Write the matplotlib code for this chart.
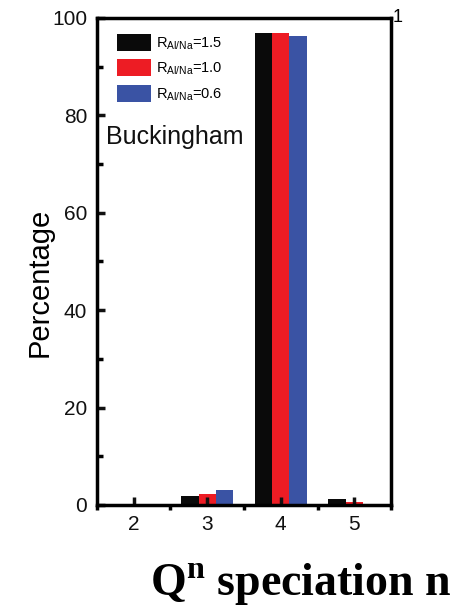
import matplotlib
matplotlib.use("Agg")
import matplotlib.pyplot as plt
from matplotlib.patches import Patch
import numpy as np

plt.rcParams['font.family'] = ['Liberation Sans', 'DejaVu Sans']

# Q^n speciation percentages, Buckingham potential
qn = [2, 3, 4, 5]
r15 = [0.0, 1.8, 96.9, 1.3]
r10 = [0.0, 2.2, 96.9, 0.6]
r06 = [0.0, 3.0, 96.3, 0.1]
series = [r15, r10, r06]
labels = ['R$_{\\mathregular{Al/Na}}$=1.5', 'R$_{\\mathregular{Al/Na}}$=1.0', 'R$_{\\mathregular{Al/Na}}$=0.6']
colors = ['#0a0a0a', '#ed1c24', '#3a53a4']

fig = plt.figure(figsize=(4.63, 6.16), dpi=100)
ax = fig.add_axes([0.2095, 0.1802, 0.635, 0.7906])

w = 0.235
x = np.array(qn, dtype=float)
for i, (vals, c) in enumerate(zip(series, colors)):
    ax.bar(x + (i - 1) * w, vals, width=w, color=c, linewidth=0)

ax.set_xlim(1.5, 5.5)
ax.set_ylim(0, 100)
ax.set_xticks(qn)
ax.set_xticks([1.5, 2.5, 3.5, 4.5, 5.5], minor=True)
ax.set_yticks([0, 20, 40, 60, 80, 100])
ax.set_yticks([10, 30, 50, 70, 90], minor=True)

for s in ax.spines.values():
    s.set_linewidth(2.5)

ax.tick_params(axis='both', which='major', direction='in', length=6, width=2.5,
               labelsize=15, colors='#111111')
ax.tick_params(axis='y', which='minor', direction='in', length=4, width=2.5)
ax.tick_params(axis='x', which='minor', direction='out', length=3.5, width=2.5)
ax.tick_params(axis='y', pad=7)
ax.tick_params(axis='x', pad=7)

ax.set_ylabel('Percentage', fontsize=21, va='center')
ax.yaxis.set_label_coords(-0.194, 0.458)

handles = [Patch(facecolor=c, edgecolor='none') for c in colors]
leg = ax.legend(handles, labels, loc='upper left', frameon=False, fontsize=10.5,
                handlelength=2.33, handleheight=1.45, handletextpad=0.35,
                labelspacing=0.5, borderaxespad=0, borderpad=0,
                bbox_to_anchor=(0.068, 0.968))

ax.text(0.03, 0.755, 'Buckingham', transform=ax.transAxes, fontsize=18,
        ha='left', va='center', color='#111111')

fig.text(393 / 463, 1 - 18 / 616, '1', fontsize=13, ha='left', va='center')

fig.text(150 / 463, 1 - 585 / 616, 'Q$^{\\mathregular{n}}$ speciation n',
         fontsize=33, fontweight='bold', family='Liberation Serif',
         ha='left', va='center')

fig.savefig('out.png', dpi=100)
